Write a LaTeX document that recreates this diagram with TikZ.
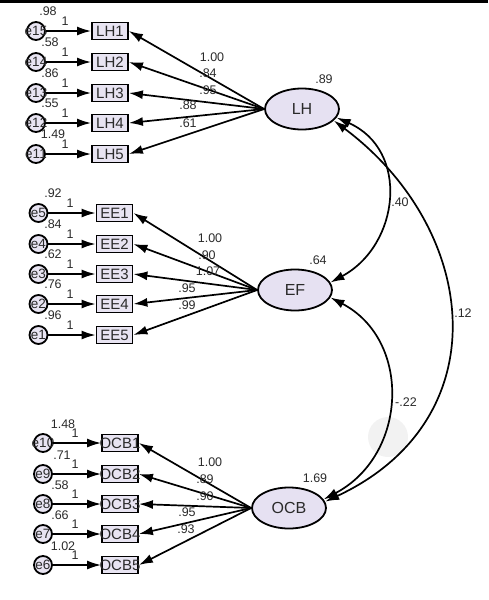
\documentclass[tikz,border=0pt]{standalone}
\usepackage{fontspec}
\setmainfont{Liberation Sans}
\usetikzlibrary{arrows.meta, shapes.geometric}

\definecolor{boxfill}{HTML}{E8E4F2}
\definecolor{latfill}{HTML}{E6E1F2}
\definecolor{txt}{HTML}{2A2A2A}

\tikzset{
  obsbox/.style={draw, line width=1.8pt, fill=boxfill, minimum width=36pt, minimum height=17pt, inner sep=0pt, text=txt, font=\fontsize{15}{17}\selectfont},
  errnode/.style={circle, draw, line width=1.8pt, fill=boxfill, minimum size=18pt, inner sep=0pt, text=txt, font=\fontsize{13.5}{15}\selectfont},
  latent/.style={ellipse, draw, line width=1.8pt, fill=latfill, minimum width=74pt, minimum height=41pt, inner sep=0pt, text=txt, font=\fontsize{16}{18}\selectfont},
  est/.style={inner sep=0pt, text=txt, font=\fontsize{12.5}{14}\selectfont},
  regarrow/.style={line width=1.7pt, -{Latex[length=14pt,width=9pt]}},
  covarrow/.style={line width=1.7pt, {Latex[length=14pt,width=9pt]}-{Latex[length=14pt,width=9pt]}}
}

\begin{document}
\begin{tikzpicture}[x=1pt, y=-1pt]
    \useasboundingbox (0,0) rectangle (488,600);
    \fill[black] (0,0) rectangle (488,3);
    \fill[black!5] (388,437) circle (20pt);

    % Latent factors
    \node[latent] (LH) at (302,109) {\makebox[0pt]{LH}};
    \node[latent] (EF) at (295,290) {\makebox[0pt]{EF}};
    \node[latent] (OCB) at (289,508) {\makebox[0pt]{OCB}};

    % LH indicators
    \foreach \i/\e/\y/\v/\x in {1/15/31/.98/48, 2/14/62/.58/50, 3/13/93/.86/50, 4/12/123/.55/50, 5/11/154/1.49/53} {
      \node[obsbox] (LH\i) at (110,\y) {\makebox[0pt]{LH\i}};
      \node[errnode] (e\e) at (36,\y) {\makebox[0pt]{e\e}};
      \draw[regarrow] (e\e) -- (LH\i);
      \draw[regarrow] (LH.west) -- (LH\i.east);
      \node[est] (ve\e) at (\x,\y-20) {\v};
      \node[est] (we\e) at (65,\y-10) {1};
    }
    \foreach \i/\v/\x/\y in {1/1.00/212/57, 2/.84/208/73, 3/.95/208/90, 4/.88/188/105, 5/.61/188/123} {
      \node[est] (lLH\i) at (\x,\y) {\v};
    }

    % EF indicators
    \foreach \i/\e/\y/\v in {1/5/213/.92, 2/4/244/.84, 3/3/274/.62, 4/2/304/.76, 5/1/335/.96} {
      \node[obsbox] (EE\i) at (114.5,\y) {\makebox[0pt]{EE\i}};
      \node[errnode] (e\e) at (38.5,\y) {\makebox[0pt]{e\e}};
      \draw[regarrow] (e\e) -- (EE\i);
      \draw[regarrow] (EF.west) -- (EE\i.east);
      \node[est] (ve\e) at (53,\y-20) {\v};
      \node[est] (we\e) at (70,\y-10) {1};
    }
    \foreach \i/\v/\x/\y in {1/1.00/210/238, 2/.90/207/255, 3/1.07/208/271, 4/.95/187/288, 5/.99/187/305} {
      \node[est] (lEE\i) at (\x,\y) {\v};
    }

    % OCB indicators
    \foreach \i/\e/\y/\v/\x in {1/10/443/1.48/63, 2/9/474/.71/62, 3/8/504/.58/60, 4/7/534/.66/60, 5/6/565/1.02/63} {
      \node[obsbox] (OCB\i) at (120,\y) {\makebox[0pt]{OCB\i}};
      \node[errnode] (e\e) at (43,\y) {\makebox[0pt]{e\e}};
      \draw[regarrow] (e\e) -- (OCB\i);
      \draw[regarrow] (OCB.west) -- (OCB\i.east);
      \node[est] (ve\e) at (\x,\y-19) {\v};
      \node[est] (we\e) at (75,\y-10) {1};
    }
    \foreach \i/\v/\x/\y in {1/1.00/210/462, 2/.89/205/479, 3/.90/205/496, 4/.95/187/512, 5/.93/186/529} {
      \node[est] (lOCB\i) at (\x,\y) {\v};
    }

    % Variances
    \node[est] (vLH) at (324,79) {.89};
    \node[est] (vEF) at (318,260) {.64};
    \node[est] (vOCB) at (315,478) {1.69};

    % Covariances
    \draw[covarrow] (LH.-14) .. controls (410,150) and (400,245) .. (EF.12);
    \draw[covarrow] (EF.-12) .. controls (412,340) and (408,455) .. (OCB.14);
    \draw[covarrow] (LH.-20) .. controls (480,230) and (500,420) .. (OCB.10);
    \node[est] (cLHEF) at (400,202) {.40};
    \node[est] (cEFOCB) at (406,402) {-.22};
    \node[est] (cLHOCB) at (463,313) {.12};

  \end{tikzpicture}
\end{document}
